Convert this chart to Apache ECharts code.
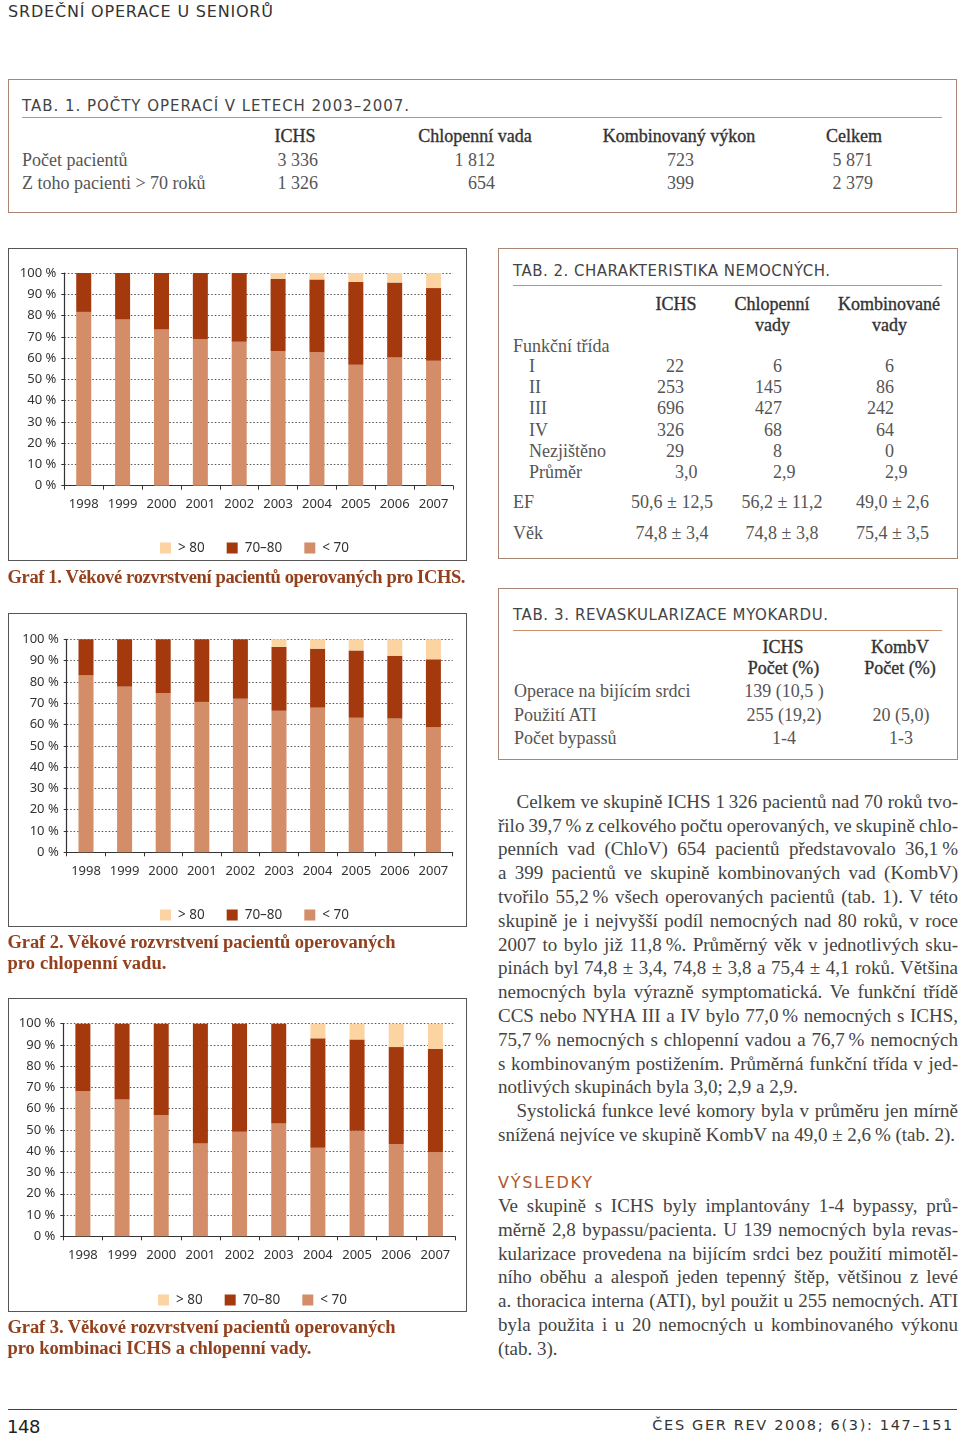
<!DOCTYPE html>
<html lang="cs">
<head>
<meta charset="utf-8">
<title>Srdeční operace u seniorů</title>
<script src="https://cdn.jsdelivr.net/npm/echarts@6/dist/echarts.min.js"></script>
<style>
  html, body { margin:0; padding:0; background:#fff; }
  body { width:960px; height:1436px; position:relative; overflow:hidden; }
  .t { position:absolute; white-space:nowrap; line-height:1.2; }
  .serif { font-family:"Liberation Serif","Times New Roman",serif; color:#555; font-size:18px; }
  .hdr { color:#333; -webkit-text-stroke:0.35px #333; }
  .caps { font-family:"DejaVu Sans",sans-serif; color:#444; font-size:15px; }
  .cap { font-family:"Liberation Serif",serif; font-weight:bold; color:#93401d; font-size:18.5px; }
  .body { font-family:"Liberation Serif",serif; color:#444; font-size:19px; }
  .box { position:absolute; box-sizing:border-box; }
  .tabbox { border:1.5px solid #a98573; }
  .chartbox { border:1.3px solid #555; pointer-events:none; }
  .rule { position:absolute; height:1.6px; background:#c89070; }
  .chart { position:absolute; }
</style>
</head>
<body>
<script>
// ---------------- DATA ----------------
const years = ['1998','1999','2000','2001','2002','2003','2004','2005','2006','2007'];
const seriesNames = ['> 80', '70–80', '< 70'];

// Graf 1 – ICHS
const ichsUnder70 = [81.7, 78.2, 73.5, 69.0, 67.7, 63.3, 62.7, 56.9, 60.3, 58.8];
const ichs70to80  = [18.3, 21.8, 26.5, 31.0, 32.3, 34.0, 34.3, 38.9, 35.2, 34.1];
const ichsOver80  = [0, 0, 0, 0, 0, 2.7, 3.0, 4.2, 4.5, 7.1];

// Graf 2 – chlopenní vada
const valveUnder70 = [83.1, 77.8, 74.8, 70.6, 72.1, 66.5, 67.9, 63.2, 62.8, 58.7];
const valve70to80  = [16.9, 22.2, 25.2, 29.4, 27.9, 29.9, 27.7, 31.6, 29.5, 31.9];
const valveOver80  = [0, 0, 0, 0, 0, 3.6, 4.4, 5.2, 7.7, 9.4];

// Graf 3 – kombinace
const combUnder70 = [68.2, 64.3, 57.1, 43.6, 49.2, 53.0, 41.7, 49.7, 43.4, 39.5];
const comb70to80  = [31.8, 35.7, 42.9, 56.4, 50.8, 47.0, 51.4, 42.9, 45.6, 48.7];
const combOver80  = [0, 0, 0, 0, 0, 0, 6.9, 7.4, 11.0, 11.8];

// Tab. 1
const tab1Cols = ['ICHS', 'Chlopenní vada', 'Kombinovaný výkon', 'Celkem'];
const tab1Rows = ['Počet pacientů', 'Z toho pacienti > 70 roků'];
const tab1Vals = [['3 336', '1 812', '723', '5 871'], ['1 326', '654', '399', '2 379']];

// Tab. 2
const tab2Rows = ['I', 'II', 'III', 'IV', 'Nezjištěno', 'Průměr'];
const tab2Ichs = ['22', '253', '696', '326', '29', '3,0'];
const tab2Valve = ['6', '145', '427', '68', '8', '2,9'];
const tab2Comb = ['6', '86', '242', '64', '0', '2,9'];
const tab2EF = ['50,6 ± 12,5', '56,2 ± 11,2', '49,0 ± 2,6'];
const tab2Age = ['74,8 ± 3,4', '74,8 ± 3,8', '75,4 ± 3,5'];

// Tab. 3
const tab3Rows = ['Operace na bijícím srdci', 'Použití ATI', 'Počet bypassů'];
const tab3Ichs = ['139 (10,5 )', '255 (19,2)', '1-4'];
const tab3Comb = ['', '20 (5,0)', '1-3'];

// Text
const para1 = [
  'Celkem ve skupině ICHS 1\u2009326 pacientů nad 70 roků tvo-',
  'řilo 39,7\u2009% z celkového počtu operovaných, ve skupině chlo-',
  'penních vad (ChloV) 654 pacientů představovalo 36,1\u2009%',
  'a 399 pacientů ve skupině kombinovaných vad (KombV)',
  'tvořilo 55,2\u2009% všech operovaných pacientů (tab. 1). V této',
  'skupině je i nejvyšší podíl nemocných nad 80 roků, v roce',
  '2007 to bylo již 11,8\u2009%. Průměrný věk v jednotlivých sku-',
  'pinách byl 74,8 ± 3,4, 74,8 ± 3,8 a 75,4 ± 4,1 roků. Většina',
  'nemocných byla výrazně symptomatická. Ve funkční třídě',
  'CCS nebo NYHA III a IV bylo 77,0\u2009% nemocných s ICHS,',
  '75,7\u2009% nemocných s chlopenní vadou a 76,7\u2009% nemocných',
  's kombinovaným postižením. Průměrná funkční třída v jed-',
  'notlivých skupinách byla 3,0; 2,9 a 2,9.'
];
const para2 = [
  'Systolická funkce levé komory byla v průměru jen mírně',
  'snížená nejvíce ve skupině KombV na 49,0 ± 2,6\u2009% (tab. 2).'
];
const para3 = [
  'Ve skupině s ICHS byly implantovány 1-4 bypassy, prů-',
  'měrně 2,8 bypassu/pacienta. U 139 nemocných byla revas-',
  'kularizace provedena na bijícím srdci bez použití mimotěl-',
  'ního oběhu a alespoň jeden tepenný štěp, většinou z levé',
  'a. thoracica interna (ATI), byl použit u 255 nemocných. ATI',
  'byla použita i u 20 nemocných u kombinovaného výkonu',
  '(tab. 3).'
];

// ---------------- HELPERS ----------------
const COL_OVER80 = '#fcd4a2';
const COL_MID = '#a3390d';
const COL_UNDER70 = '#d38d69';

function T(x, y, s, cls, align, extraStyle) {
  const d = document.createElement('div');
  d.className = 't ' + (cls || '');
  d.textContent = s;
  d.style.left = x + 'px';
  d.style.top = y + 'px';
  const tx = align === 'center' ? '-50%' : align === 'right' ? '-100%' : '0';
  d.style.transform = 'translate(' + tx + ',-50%)';
  if (extraStyle) Object.assign(d.style, extraStyle);
  document.body.appendChild(d);
  return d;
}
function fitLetters(el, width) {
  const chars = el.textContent.length;
  const w = el.getBoundingClientRect().width;
  el.style.letterSpacing = ((width - w) / Math.max(chars - 1, 1)) + 'px';
  return el;
}
function justify(el, width) {
  const spaces = (el.textContent.match(/ /g) || []).length;
  const w = el.getBoundingClientRect().width;
  if (spaces) el.style.wordSpacing = ((width - w) / spaces) + 'px';
}
function box(x, y, w, h, cls) {
  const d = document.createElement('div');
  d.className = 'box ' + cls;
  Object.assign(d.style, { left: x + 'px', top: y + 'px', width: w + 'px', height: h + 'px' });
  document.body.appendChild(d);
  return d;
}
function rule(x, y, w) {
  const d = document.createElement('div');
  d.className = 'rule';
  Object.assign(d.style, { left: x + 'px', top: y + 'px', width: w + 'px' });
  document.body.appendChild(d);
}
// number aligned on the integer part (decimals hang to the right)
function decNum(xRight, y, s) {
  const parts = s.split(',');
  const d = T(xRight, y, parts[0], 'serif', 'right');
  if (parts.length > 1) {
    const sp = document.createElement('span');
    sp.textContent = ',' + parts[1];
    sp.style.position = 'absolute';
    sp.style.left = '100%';
    d.appendChild(sp);
  }
}

// ---------------- PAGE HEADER / FOOTER ----------------
fitLetters(T(8, 12, 'SRDEČNÍ OPERACE U SENIORŮ', 'caps', 'left', { fontSize: '16px', color: '#333' }), 265);
const fl = document.createElement('div');
Object.assign(fl.style, { position: 'absolute', left: '8px', top: '1409px', width: '949px', height: '1.3px', background: '#444' });
document.body.appendChild(fl);
T(7, 1427, '148', 'caps', 'left', { fontSize: '18px', color: '#222', letterSpacing: '-0.5px' });
fitLetters(T(954, 1426, 'ČES GER REV 2008; 6(3): 147–151', 'caps', 'right', { fontSize: '14.5px', color: '#333' }), 300);

// ---------------- TAB 1 ----------------
box(8, 79, 949, 134, 'tabbox');
fitLetters(T(22, 106, 'TAB. 1. POČTY OPERACÍ V LETECH 2003–2007.', 'caps'), 387);
rule(22, 116.5, 920);
const t1Center = [295, 475, 679, 854];
const t1Right = [318, 495, 694, 873];
tab1Cols.forEach((c, i) => T(t1Center[i], 137, c, 'serif hdr', 'center'));
tab1Rows.forEach((r, ri) => {
  T(22, 161 + ri * 22.5, r, 'serif');
  tab1Vals[ri].forEach((v, ci) => T(t1Right[ci], 161 + ri * 22.5, v, 'serif', 'right'));
});

// ---------------- TAB 2 ----------------
box(498, 247.5, 459.5, 311, 'tabbox');
fitLetters(T(513, 270.5, 'TAB. 2. CHARAKTERISTIKA NEMOCNÝCH.', 'caps'), 317);
rule(513, 284.5, 429);
T(676, 305, 'ICHS', 'serif hdr', 'center');
T(772, 305, 'Chlopenní', 'serif hdr', 'center');
T(772.5, 326, 'vady', 'serif hdr', 'center');
T(889, 305, 'Kombinované', 'serif hdr', 'center');
T(889.5, 326, 'vady', 'serif hdr', 'center');
T(513, 346.5, 'Funkční třída', 'serif');
tab2Rows.forEach((r, i) => {
  const y = 367.3 + i * 21.08;
  T(529, y, r, 'serif');
  decNum(684, y, tab2Ichs[i]);
  decNum(782, y, tab2Valve[i]);
  decNum(894, y, tab2Comb[i]);
});
T(513, 503.3, 'EF', 'serif');
T(513, 534.3, 'Věk', 'serif');
const t2Center = [672, 782, 892.5];
tab2EF.forEach((v, i) => T(t2Center[i], 503.3, v, 'serif', 'center'));
tab2Age.forEach((v, i) => T(t2Center[i], 534.3, v, 'serif', 'center'));

// ---------------- TAB 3 ----------------
box(498, 588, 459.5, 172, 'tabbox');
fitLetters(T(513, 615, 'TAB. 3. REVASKULARIZACE MYOKARDU.', 'caps'), 315);
rule(513, 629.5, 429);
T(783, 647.5, 'ICHS', 'serif hdr', 'center');
T(783.5, 668.5, 'Počet (%)', 'serif hdr', 'center');
T(900, 647.5, 'KombV', 'serif hdr', 'center');
T(900, 668.5, 'Počet (%)', 'serif hdr', 'center');
tab3Rows.forEach((r, i) => {
  const y = 692 + i * 23.6;
  T(514, y, r, 'serif');
  T(784, y, tab3Ichs[i], 'serif', 'center');
  if (tab3Comb[i]) T(901, y, tab3Comb[i], 'serif', 'center');
});

// ---------------- BODY TEXT ----------------
function paragraph(lines, y0, step, firstIndent) {
  lines.forEach((s, i) => {
    const indent = i === 0 ? firstIndent : 0;
    const el = T(498 + indent, y0 + i * step, s, 'body');
    if (i < lines.length - 1) justify(el, 460 - indent);
  });
}
const LS = 23.8;
paragraph(para1, 801.7, LS, 18.5);
paragraph(para2, 801.7 + 13 * LS, LS, 18.5);
fitLetters(T(498, 1183, 'VÝSLEDKY', 'caps', 'left', { fontSize: '16px', color: '#b0572c' }), 94);
paragraph(para3, 1206, LS, 0);

// ---------------- CHARTS ----------------
function makeChart(cfg, under70, mid, over80) {
  const el = document.createElement('div');
  el.className = 'chart';
  Object.assign(el.style, { left: cfg.x + 'px', top: cfg.y + 'px', width: cfg.w + 'px', height: cfg.h + 'px' });
  document.body.appendChild(el);
  box(cfg.x, cfg.y, cfg.w, cfg.h, 'chartbox');
  const chart = echarts.init(el, null, { renderer: 'canvas' });
  const font = '"Noto Sans", sans-serif';
  const axisCol = '#333';
  chart.setOption({
    animation: false,
    grid: { left: cfg.gl, top: cfg.gt, width: cfg.gw, height: cfg.gh, containLabel: false },
    legend: {
      data: seriesNames,
      left: cfg.ll, top: cfg.lt,
      icon: 'rect', itemWidth: 11, itemHeight: 11, itemGap: 22,
      textStyle: { fontFamily: font, fontSize: 13.5, color: '#333', padding: [0, 0, 0, 2] },
      selectedMode: false
    },
    xAxis: {
      type: 'category', data: years, boundaryGap: true,
      axisLine: { lineStyle: { color: axisCol, width: 1.2 } },
      axisTick: { show: true, length: 4, alignWithLabel: false, lineStyle: { color: axisCol } },
      axisLabel: { margin: 12, fontFamily: font, fontSize: 13, color: '#333', interval: 0 }
    },
    yAxis: {
      type: 'value', min: 0, max: 100, interval: 10,
      axisLine: { show: true, lineStyle: { color: axisCol, width: 1.2 } },
      axisTick: { show: true, length: 3, lineStyle: { color: axisCol } },
      axisLabel: { formatter: '{value} %', margin: 8, fontFamily: font, fontSize: 13, color: '#333' },
      splitLine: { show: true, lineStyle: { type: [1.5, 2], color: '#555', width: 1 } }
    },
    series: [
      { name: '< 70', type: 'bar', stack: 'age', data: under70, barWidth: 15, itemStyle: { color: COL_UNDER70 } },
      { name: '70–80', type: 'bar', stack: 'age', data: mid, barWidth: 15, itemStyle: { color: COL_MID } },
      { name: '> 80', type: 'bar', stack: 'age', data: over80, barWidth: 15, itemStyle: { color: COL_OVER80 } }
    ]
  });
}

makeChart({ x: 8, y: 248, w: 459, h: 313, gl: 56.3, gt: 25, gw: 388.7, gh: 212.7, ll: 147, lt: 288 },
  ichsUnder70, ichs70to80, ichsOver80);
makeChart({ x: 8, y: 613, w: 459, h: 314, gl: 58.7, gt: 26.3, gw: 386, gh: 213, ll: 147, lt: 290 },
  valveUnder70, valve70to80, valveOver80);
makeChart({ x: 8, y: 998, w: 459, h: 314, gl: 55.3, gt: 25.7, gw: 391.7, gh: 212.6, ll: 145, lt: 290 },
  combUnder70, comb70to80, combOver80);

// Captions
fitLetters(T(7.5, 576.5, 'Graf 1. Věkové rozvrstvení pacientů operovaných pro ICHS.', 'cap'), 458);
fitLetters(T(7.5, 941.7, 'Graf 2. Věkové rozvrstvení pacientů operovaných', 'cap'), 388);
fitLetters(T(7.5, 962.7, 'pro chlopenní vadu.', 'cap'), 159);
fitLetters(T(7.5, 1326.7, 'Graf 3. Věkové rozvrstvení pacientů operovaných', 'cap'), 388);
fitLetters(T(7.5, 1347.7, 'pro kombinaci ICHS a chlopenní vady.', 'cap'), 304);
</script>
</body>
</html>
